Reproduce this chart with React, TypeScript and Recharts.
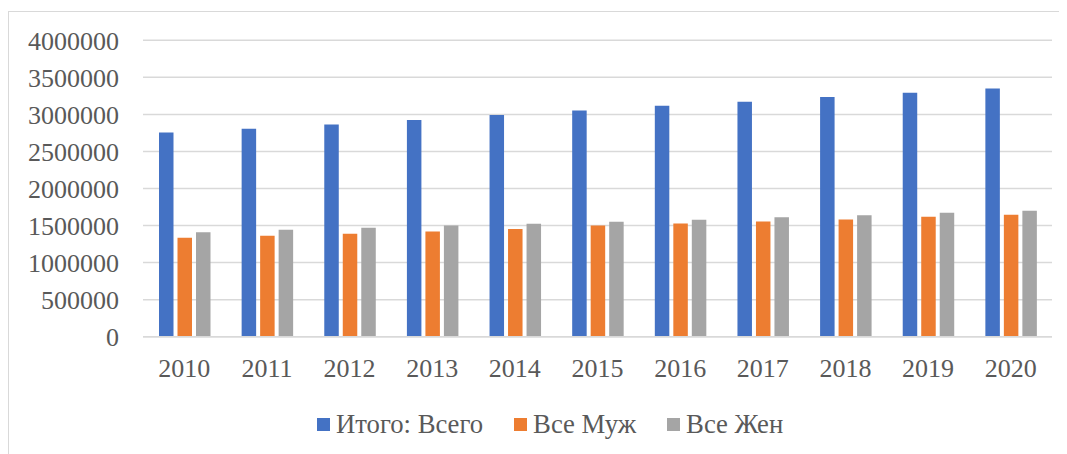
import React from "react";
import { BarChart, Bar, XAxis, YAxis, CartesianGrid, Legend } from "recharts";

const years = ["2010", "2011", "2012", "2013", "2014", "2015", "2016", "2017", "2018", "2019", "2020"];
const totalAll = [2757000, 2807000, 2865000, 2924000, 2992000, 3054000, 3118000, 3172000, 3235000, 3293000, 3351000];
const allMen = [1334000, 1361000, 1388000, 1419000, 1455000, 1500000, 1527000, 1554000, 1581000, 1618000, 1645000];
const allWomen = [1411000, 1442000, 1469000, 1500000, 1523000, 1550000, 1577000, 1613000, 1640000, 1672000, 1699000];
const yTicks = [0, 500000, 1000000, 1500000, 2000000, 2500000, 3000000, 3500000, 4000000];

const seriesNames = ["Итого: Всего", "Все Муж", "Все Жен"];
const colors = ["#4472C4", "#ED7D31", "#A5A5A5"];

const data = years.map((y, i) => ({
  year: y,
  total: totalAll[i],
  men: allMen[i],
  women: allWomen[i],
}));

const FONT = "'Liberation Serif', 'Times New Roman', serif";
const TEXT = "#595959";

const LegendContent = () => (
  <div
    style={{
      height: 30,
      display: "flex",
      alignItems: "center",
      paddingLeft: 308,
      fontFamily: FONT,
      fontSize: 26.7,
      color: TEXT,
    }}
  >
    {seriesNames.map((n, i) => (
      <div key={n} style={{ display: "flex", alignItems: "center", marginRight: 31 }}>
        <div style={{ width: 13, height: 13, background: colors[i], marginRight: 6 }} />
        <span style={{ lineHeight: "30px", whiteSpace: "nowrap" }}>{n}</span>
      </div>
    ))}
  </div>
);

export default function App() {
  return (
    <div
      style={{
        marginTop: 3,
        width: 1058,
        height: 443,
        borderLeft: "1px solid #d9d9d9",
        borderTop: "1px solid #d9d9d9",
        background: "#fff",
      }}
    >
      <BarChart
        width={1058}
        height={442}
        data={data}
        margin={{ top: 28.3, right: 15, left: 0, bottom: 15 }}
        barSize={14.5}
        barGap={4}
      >
        <CartesianGrid vertical={false} stroke="#d9d9d9" strokeWidth={1.5} />
        <XAxis
          dataKey="year"
          height={72.3}
          tickSize={0}
          tickMargin={22}
          axisLine={{ stroke: "#d9d9d9", strokeWidth: 1.5 }}
          tickLine={false}
          tick={{ fill: TEXT, fontSize: 26, fontFamily: FONT }}
          interval={0}
        />
        <YAxis
          width={134}
          domain={[0, 4000000]}
          ticks={yTicks}
          tickSize={0}
          tickMargin={24}
          axisLine={false}
          tickLine={false}
          tick={{ fill: TEXT, fontSize: 26, fontFamily: FONT }}
          interval={0}
        />
        <Legend verticalAlign="bottom" content={<LegendContent />} />
        <Bar dataKey="total" name={seriesNames[0]} fill={colors[0]} isAnimationActive={false} />
        <Bar dataKey="men" name={seriesNames[1]} fill={colors[1]} isAnimationActive={false} />
        <Bar dataKey="women" name={seriesNames[2]} fill={colors[2]} isAnimationActive={false} />
      </BarChart>
    </div>
  );
}
